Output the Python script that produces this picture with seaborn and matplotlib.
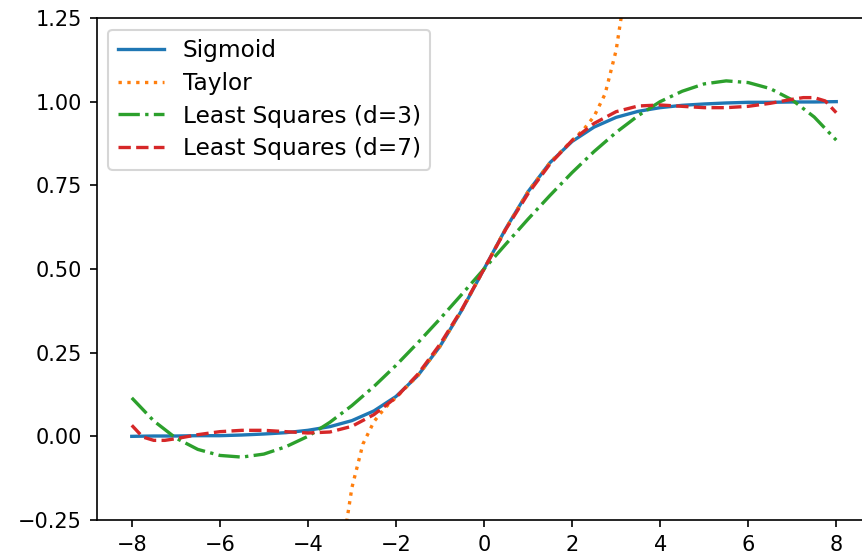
import numpy as np
import matplotlib
matplotlib.use("Agg")
import matplotlib.pyplot as plt
import seaborn as sns

# x grid shared by sigmoid and least-squares (d=3)
x_main = [-8, -7.5, -7, -6.5, -6, -5.5, -5, -4.5, -4, -3.5, -3, -2.5, -2, -1.5, -1, -0.5,
          0, 0.5, 1, 1.5, 2, 2.5, 3, 3.5, 4, 4.5, 5, 5.5, 6, 6.5, 7, 7.5, 8]

sigmoid_y = [0.000, 0.001, 0.001, 0.002, 0.002, 0.004, 0.007, 0.011, 0.018, 0.029, 0.047,
             0.076, 0.119, 0.182, 0.269, 0.378, 0.500, 0.622, 0.731, 0.818, 0.881, 0.924,
             0.953, 0.971, 0.982, 0.989, 0.993, 0.996, 0.998, 0.998, 0.999, 0.999, 1.000]

ls3_y = [0.115, 0.046, -0.005, -0.039, -0.057, -0.062, -0.053, -0.031, 0.000, 0.042, 0.092,
         0.149, 0.212, 0.280, 0.351, 0.425, 0.500, 0.575, 0.649, 0.720, 0.788, 0.851,
         0.908, 0.958, 1.000, 1.031, 1.053, 1.062, 1.057, 1.039, 1.005, 0.954, 0.885]

x_taylor = [-3.25, -3.125, -3, -2.75, -2.5, -2.25, -2, -1.5, -1, -0.5, 0,
            0.5, 1, 1.5, 2, 2.25, 2.5, 2.75, 3, 3.125, 3.25]
taylor_y = [-0.409, -0.260, -0.153, -0.023, 0.044, 0.085, 0.116, 0.182, 0.269, 0.378, 0.500,
            0.622, 0.731, 0.818, 0.884, 0.915, 0.956, 1.023, 1.153, 1.260, 1.409]

x_ls7 = [-8, -7.75, -7.5, -7.25, -7, -6.5, -6, -5.5, -5, -4.5, -4, -3.5, -3, -2.5, -2, -1.5,
         -1, -0.5, 0, 0.5, 1, 1.5, 2, 2.5, 3, 3.5, 4, 4.5, 5, 5.5, 6, 6.5, 7, 7.25, 7.5,
         7.75, 8]
ls7_y = [0.033, -0.002, -0.012, -0.012, -0.007, 0.005, 0.014, 0.018, 0.018, 0.014, 0.010,
         0.013, 0.030, 0.065, 0.116, 0.186, 0.275, 0.3805, 0.500, 0.6195, 0.725, 0.814,
         0.884, 0.935, 0.970, 0.987, 0.990, 0.986, 0.982, 0.982, 0.986, 0.995, 1.007,
         1.012, 1.012, 1.002, 0.967]

labels = ["Sigmoid", "Taylor", "Least Squares (d=3)", "Least Squares (d=7)"]
colors = ["#1f77b4", "#ff7f0e", "#2ca02c", "#d62728"]
styles = ["-", ":", "-.", "--"]

plt.rcParams["font.family"] = ["DejaVu Sans"]
plt.rcParams["font.size"] = 10

fig = plt.figure(figsize=(862 / 150, 556 / 150), dpi=150)
ax = fig.add_axes([0.112, 0.0647, 0.899, 0.903])

series = [(x_main, sigmoid_y), (x_taylor, taylor_y), (x_main, ls3_y), (x_ls7, ls7_y)]
for (xs, ys), lab, col, ls in zip(series, labels, colors, styles):
    sns.lineplot(x=xs, y=ys, ax=ax, label=lab, color=col, linestyle=ls, linewidth=1.6)

ax.set_xlim(-8.8, 8.8)
ax.set_ylim(-0.25, 1.25)
ax.set_xticks([-8, -6, -4, -2, 0, 2, 4, 6, 8])
ax.set_yticks([-0.25, 0.0, 0.25, 0.5, 0.75, 1.0, 1.25])
ax.legend(loc="upper left", fontsize=11.2, labelspacing=0.42)

fig.savefig("out.png", dpi=150)
